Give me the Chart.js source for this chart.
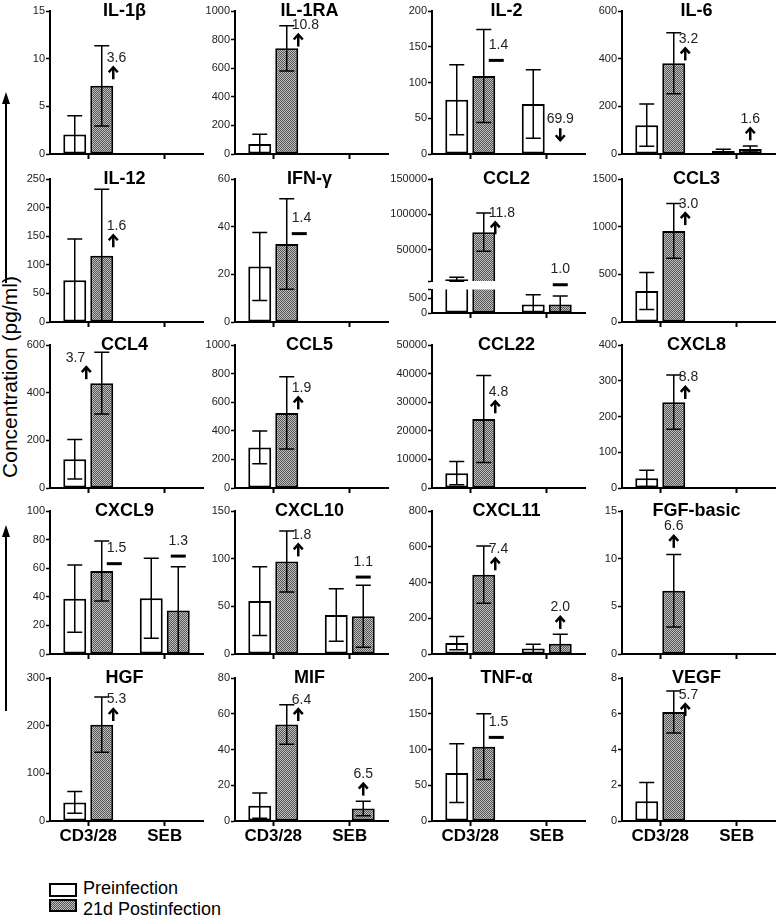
<!DOCTYPE html>
<html>
<head>
<meta charset="utf-8">
<script src="https://cdn.jsdelivr.net/npm/chart.js@4.4.1/dist/chart.umd.min.js"></script>
<style>
  html, body { margin: 0; padding: 0; background: #fff; }
  #stage { position: relative; width: 777px; height: 922px; overflow: hidden; font-family: 'Liberation Sans', Arial, sans-serif; }
  #stage canvas { position: absolute; }
  .ytitle { position: absolute; left: -120px; top: 365px; width: 260px; height: 24px; line-height: 24px; font-size: 21px;
            text-align: center; transform: rotate(-90deg); color: #000; white-space: nowrap; }
  .key { position: absolute; left: 49px; width: 28px; box-sizing: border-box; border: 2px solid #000; }
  .hatch { background: repeating-conic-gradient(#555 0 25%, #c0c0c0 0 50%) 0 0 / 2px 2px; }
  .keytext { position: absolute; left: 83px; font-size: 18px; line-height: 18px; color: #000; white-space: nowrap; }
</style>
</head>
<body>
<div id="stage">
  <svg width="20" height="922" style="position:absolute;left:0;top:0">
    <line x1="6" y1="283" x2="6" y2="100" stroke="#000" stroke-width="2"/>
    <polygon points="6,92 2,104 10,104" fill="#000"/>
    <line x1="6" y1="711" x2="6" y2="533" stroke="#000" stroke-width="2"/>
    <polygon points="6,525 2,537 10,537" fill="#000"/>
  </svg>
  <div class="ytitle">Concentration (pg/ml)</div>
  <div class="key" style="top:883px;height:14px;background:#fff"></div>
  <div class="keytext" style="top:879px">Preinfection</div>
  <div class="key hatch" style="top:899px;height:13px"></div>
  <div class="keytext" style="top:900px">21d Postinfection</div>
</div>
<script>
const groups = ["CD3/28", "SEB"];
const titles = ["IL-1β", "IL-1RA", "IL-2", "IL-6", "IL-12", "IFN-γ", "CCL2", "CCL3", "CCL4", "CCL5",
                "CCL22", "CXCL8", "CXCL9", "CXCL10", "CXCL11", "FGF-basic", "HGF", "MIF", "TNF-α", "VEGF"];
const yMax  = [15, 1000, 200, 600, 250, 60, 150000, 1500, 600, 1000, 50000, 400, 100, 150, 800, 15, 300, 80, 200, 8];
const yStep = [5, 200, 50, 200, 50, 20, 50000, 500, 200, 200, 10000, 100, 20, 50, 200, 5, 100, 20, 50, 2];

// mean and SD per group [CD3/28, SEB]
const preMean = [
  [2.05, null], [70, null], [76, 70], [121, 13],
  [73, null], [23.3, null], [8400, 290], [325, null],
  [121, null], [284, null], [5200, null], [27, null],
  [38.7, 39], [55.5, 41], [61, 31], [null, null],
  [39, null], [8.6, null], [67, null], [1.1, null]
];
const preSD = [
  [1.95, null], [68, null], [49, 48], [89, 7],
  [72, null], [14.3, null], [3000, 330], [195, null],
  [83, null], [115, null], [4100, null], [23, null],
  [23.5, 28], [36, 27.5], [37, 24], [null, null],
  [23, null], [7, null], [41, null], [1.05, null]
];
const postMean = [
  [7.15, null], [739, null], [109, null], [381, 21],
  [116, null], [32.7, null], [75000, 290], [955, null],
  [440, null], [525, null], [24100, null], [240, null],
  [58, 30.5], [97, 39.5], [444, 57], [6.63, null],
  [202, null], [54, 7], [104, null], [6.1, null]
];
const postSD = [
  [4.2, null], [158, null], [65, null], [128, 13],
  [116, null], [19, null], [27000, 290], [287, null],
  [130, null], [253, null], [15200, null], [76, null],
  [21, 30.5], [32, 32.5], [160, 54], [3.8, null],
  [58, null], [11, 4], [46, null], [1.17, null]
];

// CCL2 uses a broken axis
const ccl2Upper = [6000, 150000];
const ccl2UpperTicks = [6000, 50000, 100000, 150000];
const ccl2Lower = [0, 800];
const ccl2LowerTicks = [0, 500, 800];

// fold-change marks, one per group (first = CD3/28, second = SEB)
const foldLabels = [["3.6"], ["10.8"], ["1.4", "69.9"], ["3.2", "1.6"], ["1.6"], ["1.4"], ["11.8", "1.0"], ["3.0"],
  ["3.7"], ["1.9"], ["4.8"], ["8.8"], ["1.5", "1.3"], ["1.8", "1.1"], ["7.4", "2.0"], ["6.6"],
  ["5.3"], ["6.4", "6.5"], ["1.5"], ["5.7"]];
const foldDirs = [["up"], ["up"], ["flat", "down"], ["up", "up"], ["up"], ["flat"], ["up", "flat"], ["up"],
  ["up"], ["up"], ["up"], ["up"], ["flat", "flat"], ["up", "flat"], ["up", "up"], ["up"],
  ["up"], ["up", "up"], ["flat"], ["up"]];
const foldAt = [[10.2], [909], [154, 50.7], [487, 152], [170], [44], [103700, 24000], [1252],
  [551], [707], [34000], [312], [74.7, 80], [126, 98], [594, 266], [13.5],
  [257], [68.5, 26.8], [140], [7.13]];
const foldSide = [["right"], ["right"], ["right", "center"], ["right", "center"], ["right"], ["right"], ["right", "center"], ["right"],
  ["left"], ["right"], ["right"], ["right"], ["right", "center"], ["right", "center"], ["right", "center"], ["center"],
  ["right"], ["right", "center"], ["right"], ["right"]];

const FONT = "'Liberation Sans', Arial, sans-serif";
Chart.defaults.font.family = FONT;

const colX = [50, 235, 432, 622];        // y axis position of each column
const rowZero = [154, 322, 488, 654, 821]; // x axis position of each row
const PLOT_W = 153, PLOT_H = 143, AXIS_W = 46, PAD_T = 14, PAD_R = 6;
const CAT_PCT = 0.706, BAR_PCT = 0.85;

const stage = document.getElementById("stage");

function makeHatch() {
  const c = document.createElement("canvas");
  c.width = 2; c.height = 2;
  const g = c.getContext("2d");
  g.fillStyle = "#c0c0c0"; g.fillRect(0, 0, 2, 2);
  g.fillStyle = "#555"; g.fillRect(0, 0, 1, 1); g.fillRect(1, 1, 1, 1);
  return g.createPattern(c, "repeat");
}
const hatch = makeHatch();

function addCanvas(left, top, w, h) {
  const c = document.createElement("canvas");
  c.width = w; c.height = h;
  c.style.left = left + "px"; c.style.top = top + "px";
  c.style.width = w + "px"; c.style.height = h + "px";
  stage.appendChild(c);
  return c;
}

const errorBars = {
  id: "errorBars",
  afterDatasetsDraw(chart) {
    const { ctx, chartArea: a, scales: { y } } = chart;
    ctx.save();
    ctx.beginPath();
    ctx.rect(a.left, a.top - 1, a.right - a.left, a.bottom - a.top + 2);
    ctx.clip();
    ctx.strokeStyle = "#000";
    ctx.lineWidth = 1.5;
    chart.data.datasets.forEach((ds, d) => {
      chart.getDatasetMeta(d).data.forEach((bar, k) => {
        const m = ds.data[k], s = ds.sd[k];
        if (m == null || s == null) return;
        const yt = y.getPixelForValue(m + s), yb = y.getPixelForValue(m - s);
        const x = bar.x, cw = 7.5;
        ctx.beginPath();
        ctx.moveTo(x, yt); ctx.lineTo(x, yb);
        ctx.moveTo(x - cw, yt); ctx.lineTo(x + cw, yt);
        ctx.moveTo(x - cw, yb); ctx.lineTo(x + cw, yb);
        ctx.stroke();
      });
    });
    ctx.restore();
  }
};

const panelTitle = {
  id: "panelTitle",
  afterDraw(chart, args, opts) {
    if (!opts.text) return;
    const { ctx, chartArea: a } = chart;
    ctx.save();
    ctx.font = "bold 18px " + FONT;
    ctx.fillStyle = "#000";
    ctx.textAlign = "center";
    ctx.textBaseline = "alphabetic";
    ctx.fillText(opts.text, (a.left + a.right) / 2 - 2, a.top + 4.5);
    ctx.restore();
  }
};

function drawSymbol(ctx, dir, x, y) {
  ctx.save();
  ctx.fillStyle = "#000";
  ctx.strokeStyle = "#000";
  ctx.lineWidth = 2.5;
  if (dir === "flat") {
    ctx.fillRect(x - 7.5, y - 1.5, 15, 3);
  } else {
    const s = dir === "up" ? -1 : 1;
    const tip = y + 6 * s, tail = y - 6 * s, wing = tip - 5 * s;
    ctx.beginPath();
    ctx.moveTo(x, tail); ctx.lineTo(x, tip + 1 * -s);
    ctx.stroke();
    ctx.beginPath();
    ctx.moveTo(x - 4.5, wing); ctx.lineTo(x, tip); ctx.lineTo(x + 4.5, wing);
    ctx.stroke();
  }
  ctx.restore();
}

const foldMarks = {
  id: "foldMarks",
  afterDatasetsDraw(chart, args, opts) {
    const i = opts.panel;
    if (i == null) return;
    const { ctx, chartArea: a, scales: { x, y } } = chart;
    const slot = (a.right - a.left) / groups.length * CAT_PCT / 2;
    ctx.save();
    ctx.font = "14px " + FONT;
    ctx.fillStyle = "#222";
    ctx.textBaseline = "alphabetic";
    foldLabels[i].forEach((label, k) => {
      const cx = x.getPixelForValue(k) + slot / 2;
      const bw = slot * BAR_PCT;
      const ty = y.getPixelForValue(foldAt[i][k]);
      const side = foldSide[i][k];
      let tx, sx;
      if (side === "right") { ctx.textAlign = "left"; tx = cx + 5; sx = tx + 6.5; }
      else if (side === "left") { ctx.textAlign = "right"; tx = cx - bw / 2 - 5; sx = tx + 1; }
      else { ctx.textAlign = "center"; tx = cx; sx = cx; }
      ctx.fillText(label, tx, ty + 5);
      drawSymbol(ctx, foldDirs[i][k], sx + (foldDirs[i][k] === "flat" && side === "right" ? 1 : 0), ty + 16.5);
    });
    ctx.restore();
  }
};

function config(i, o) {
  const ds = (label, mean, sd, fill) => ({
    label: label, data: mean, sd: sd,
    backgroundColor: fill, borderColor: "#000", borderWidth: 2, borderSkipped: false,
    categoryPercentage: CAT_PCT, barPercentage: BAR_PCT, clip: 0
  });
  return {
    type: "bar",
    data: {
      labels: groups,
      datasets: [
        ds("Preinfection", preMean[i], preSD[i], "#fff"),
        ds("21d Postinfection", postMean[i], postSD[i], hatch)
      ]
    },
    options: {
      responsive: false,
      animation: false,
      devicePixelRatio: 1,
      layout: { padding: { top: o.padTop, right: PAD_R, bottom: o.padBottom || 0, left: 0 } },
      plugins: {
        legend: { display: false },
        tooltip: { enabled: false },
        panelTitle: { text: o.title },
        foldMarks: { panel: o.folds ? i : null }
      },
      scales: {
        x: {
          display: o.xH > 0,
          grid: { drawOnChartArea: false, offset: false, tickLength: 5, tickColor: "#000", tickWidth: 2 },
          border: { color: "#000", width: 2 },
          ticks: { display: !!o.labels, color: "#000", padding: 0, maxRotation: 0, autoSkip: false,
                   font: { size: 17, weight: "bold" } },
          afterFit: (s) => { s.height = o.xH; }
        },
        y: {
          min: o.min, max: o.max,
          ticks: {
            stepSize: o.step, color: "#222", padding: 1, autoSkip: false, font: { size: 11 },
            callback: (v) => (o.blank && o.blank.includes(v)) ? "" : String(v)
          },
          grid: { drawOnChartArea: false, tickLength: 4, tickColor: "#000", tickWidth: 1.5 },
          border: { color: "#000", width: 2 },
          afterBuildTicks: o.tickVals ? (s) => { s.ticks = o.tickVals.map((v) => ({ value: v })); } : undefined,
          afterFit: (s) => { s.width = AXIS_W; }
        }
      }
    },
    plugins: [errorBars, panelTitle, foldMarks]
  };
}

titles.forEach((title, i) => {
  const col = i % 4, row = Math.floor(i / 4);
  const left = colX[col] - AXIS_W;
  const width = AXIS_W + PLOT_W + PAD_R;
  const bottomRow = row === 4;

  if (i === 6) {
    // broken axis: upper part 179..281, lower part 288..313
    const upTop = 179, upH = 102, lowTop = 288, lowH = 25;
    const cu = addCanvas(left, upTop - PAD_T, width, PAD_T + upH + 12);
    new Chart(cu, config(i, { min: ccl2Upper[0], max: ccl2Upper[1], tickVals: ccl2UpperTicks, blank: [ccl2Upper[0]],
      padTop: PAD_T, padBottom: 12, xH: 0, title: title, folds: true }));
    const cl = addCanvas(left, lowTop - 6, width, 6 + lowH + 8);
    new Chart(cl, config(i, { min: ccl2Lower[0], max: ccl2Lower[1], tickVals: ccl2LowerTicks, blank: [ccl2Lower[1]],
      padTop: 6, xH: 8, folds: false }));
    return;
  }

  const xH = bottomRow ? 28 : 8;
  const c = addCanvas(left, rowZero[row] - PLOT_H - PAD_T, width, PAD_T + PLOT_H + xH);
  new Chart(c, config(i, { min: 0, max: yMax[i], step: yStep[i], padTop: PAD_T, xH: xH,
    labels: bottomRow, title: title, folds: true }));
});
</script>
</body>
</html>
